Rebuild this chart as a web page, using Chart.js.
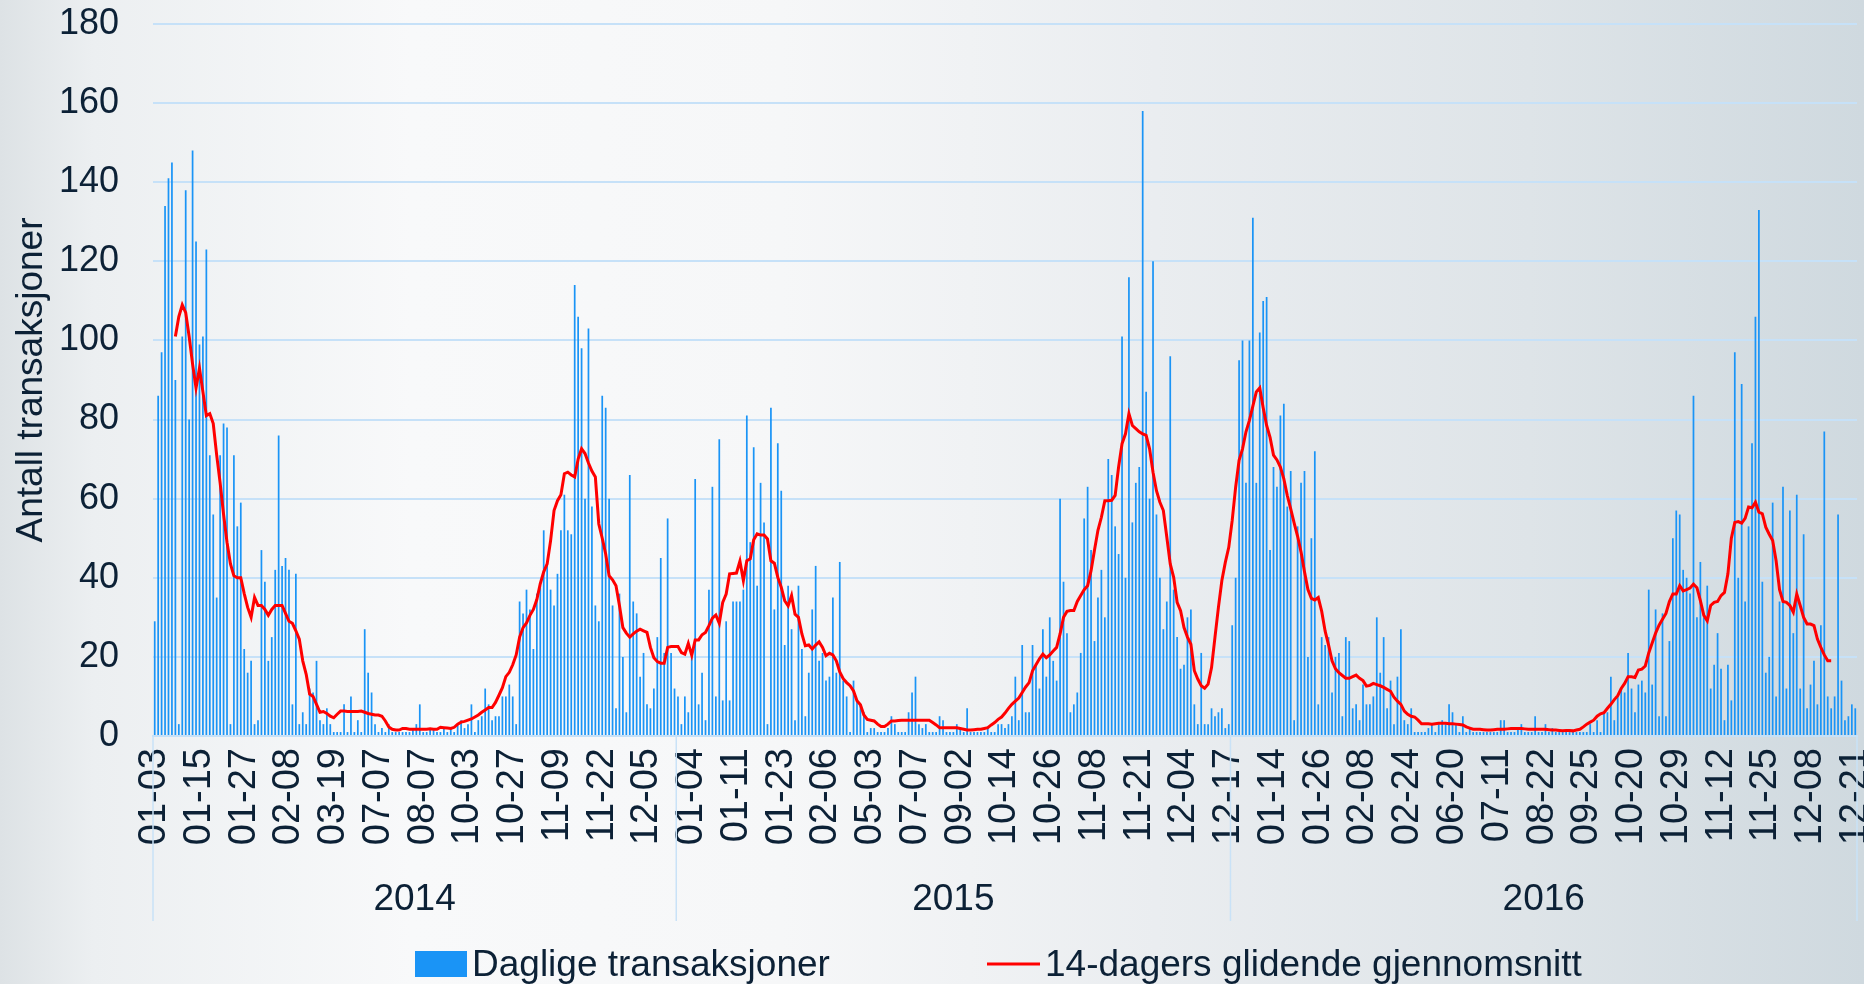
<!DOCTYPE html>
<html>

<head>
    <meta charset="utf-8">
    <title>Daglige transaksjoner</title>
    <script src="https://cdn.jsdelivr.net/npm/chart.js"></script>
    <style>
        html, body { margin: 0; padding: 0; overflow: hidden; }
        canvas { display: block; }
    </style>
</head>

<body>
    <canvas id="barChart" width="1864" height="984"></canvas>

    <script>
        // tick labels, one every 13 categories
        var tickLabels = ['01-03', '01-15', '01-27', '02-08', '03-19', '07-07', '08-07', '10-03', '10-27', '11-09', '11-22', '12-05',
            '01-04', '01-11', '01-23', '02-06', '05-03', '07-07', '09-02', '10-14', '10-26', '11-08', '11-21', '12-04', '12-17',
            '01-14', '01-26', '02-08', '02-24', '06-20', '07-11', '08-22', '09-25', '10-20', '10-29', '11-12', '11-25', '12-08', '12-21'];
        var years = ['2014', '2015', '2016'];

        // daily transactions per year
        var bars2014 = [29, 86, 97, 134, 141, 145, 90, 3, 101, 138, 80, 148, 125, 99, 101, 123,
            71, 56, 35, 71, 79, 78, 3, 71, 53, 59, 22, 16, 19, 3, 4, 47, 39, 19, 25, 42, 76, 43, 45, 42, 8, 41, 3, 6, 3,
            12, 11, 19, 4, 3, 7, 3, 1, 1, 1, 8, 1, 10, 1, 4, 1, 27, 16, 11, 3, 1, 2, 1, 3, 1, 1, 1, 1, 1,
            1, 2, 3, 8, 1, 1, 2, 2, 1, 1, 2, 1, 2, 1, 3, 4, 2, 3, 8, 1, 4, 5, 12, 8, 4, 5, 5, 10, 10, 13, 10, 3,
            34, 31, 37, 32, 22, 36, 38, 52, 43, 37, 33, 41, 52, 61, 52, 51, 114, 106, 98, 60, 103, 58, 33, 29, 86, 83, 60, 33, 7, 36, 20, 6, 66, 34, 31, 15, 21, 8, 7, 12, 25, 45, 21, 55, 21, 12];
        var bars2015 = [10, 3, 10, 6, 22, 65, 8, 16, 4, 37, 63, 10, 75, 9, 29, 9, 34, 34, 34, 37, 81, 49, 73, 38, 64, 54, 3, 83, 32, 74, 62, 23, 38, 27, 4, 38, 22, 5, 16, 32, 43, 19, 21, 14, 15, 35, 16, 44, 14, 10, 1, 14, 9, 8, 6, 1, 2, 2, 1, 1, 1, 2, 5, 3, 1, 1, 1, 6, 11, 15, 3, 2, 3, 1, 1, 1, 5, 4, 1, 1, 1, 3, 2, 1, 7,
            1,
            1, 1, 1, 1, 2, 1, 1, 3, 3, 2, 3, 5, 15, 4, 23, 6, 6, 23, 18, 12, 27, 15, 30, 19, 14, 60, 39, 26, 6, 8, 11, 21, 55, 63, 47, 24, 35, 42, 30, 70, 66, 53, 46, 101, 40, 116, 54, 64, 68, 158, 87, 60, 120, 56, 40, 27, 34, 96, 37, 25, 17, 18, 30, 32, 8, 3, 21, 3, 3, 7, 5, 6, 7, 2, 3];
        var bars2016 = [28, 40, 95, 100, 64, 100,
            131, 64, 102, 110, 111, 47, 68, 63, 81, 84,
            58, 67, 4, 53, 64, 67, 20, 50, 72, 8,
            25, 23, 25, 11, 20, 21, 5, 25, 24, 7,
            8, 4, 13, 8, 8, 10, 30, 16, 25, 7,
            14, 3, 15, 27, 4, 3, 7, 1, 1, 1,
            1, 2, 3, 1, 3, 4, 3, 8, 6, 3,
            1, 5, 1, 2, 1, 1, 1, 1, 1,
            1, 1, 1, 4, 4, 1, 1, 1, 2, 3,
            1, 1, 1, 5, 1, 1, 3, 1, 2, 1,
            1, 1, 1, 1, 1, 1, 1, 1, 1, 3,
            1, 4, 1, 6, 6, 15, 4, 10, 12, 11,
            21, 12, 6, 13, 14, 11, 37, 13, 32, 5,
            31, 5, 24, 50, 57, 56, 42, 40, 36, 86,
            30, 44, 30, 38, 12, 18, 26, 17, 4, 18,
            9, 97, 40, 89, 34, 53, 74, 106, 133, 39,
            16, 20, 59, 10, 34, 63, 12, 57, 26, 61,
            12, 51, 7, 13, 19, 8, 28, 77, 10, 7,
            10, 56, 14, 4, 5, 8, 7];

        // 14-day moving average per year
        var avg2014 = [null, null, null, null, null, null,
            101, 106, 109, 107, 101, 94, 88, 93, 87, 81,
            81.5, 79, 71, 64, 56, 49, 43.5, 40.5, 40, 40, 36, 32.5, 30, 35, 33, 33, 32, 30.5, 32, 33, 33, 33, 31, 29, 28.5, 26.6, 24.5, 19, 15.6, 10.6,
            10, 8, 6, 6.2, 5.7, 5, 4.6, 5.5, 6.3, 6.3, 6.2, 6.2, 6.2, 6.2, 6.3, 6, 5.7, 5.5, 5.3, 5.3, 5, 3.8, 2.3, 1.7, 1.5, 1.5, 1.9, 1.9,
            1.7, 1.7, 1.7, 1.7, 1.7, 1.7, 1.8, 1.7, 1.7, 2.2, 2.1,
            2.0, 1.9, 2.2, 3.0, 3.5, 3.7, 4.0, 4.3, 4.8, 5.3, 6.0, 6.6, 7.2, 7.2, 8.5, 10.3, 12.2, 15.0, 16.1, 18.0, 20.5, 25.0, 27.4, 28.6, 30.5, 32.0, 34.5, 38.5, 41.5, 43.5,
            49.4, 57, 59.5, 61, 66.3, 66.7, 66, 65.5, 70, 72.6, 71.4, 69, 67, 65.5, 53.6, 50, 46, 40.5, 39.5, 38, 33, 27.4, 26, 25, 25.8, 26.5, 27, 26.6, 26.2, 22.4, 19.8, 18.8, 18.4, 18.4, 22.4, 22.6, 22.6];
        var avg2015 = [22.6, 21.1, 20.7, 23.4, 20.4, 24.3, 24.3, 25.6, 26.2, 27.9, 29.8, 30.6, 28.5, 33.8, 35.9, 41, 41.1, 41.2, 44.2, 39.3,
            44.3, 44.8, 49.6, 51.1, 50.8, 50.8, 49.8, 44.3, 43.7, 40.1, 37.6, 34.2, 32.9, 35.5, 30.8, 30, 25.8, 22.8, 23, 22,
            23, 23.8, 22.4, 20.3, 20.9, 20.5, 19, 16.2, 14.5, 13.5, 12.7, 11.4, 8.9, 7.9, 5.3, 4.2, 4, 3.8, 3, 2.4,
            2.4, 3, 3.8, 3.8, 3.9, 4, 4, 4, 4, 4, 4, 4, 4, 4, 3.4, 2.8, 2.1, 2.1, 2.1, 2.1, 2.1, 2.1, 1.9, 1.7, 1.5,
            1.5, 1.6, 1.7, 1.7, 1.9, 2.1, 2.8, 3.4, 4.2, 4.8, 5.8, 7, 8, 8.8, 9.6, 11, 12.4, 13.5, 16.5, 18,
            19.5, 20.7, 19.8, 20.5, 21.5, 22.4, 25.8, 30, 31.5, 31.7, 31.7, 34, 35.5, 37, 38, 41.8, 47, 52, 55.3, 59.5,
            59.5, 59.6, 60.8, 68, 73.9, 76.4, 81.5, 78.5, 77.7, 76.9, 76.4, 76, 72.6, 66.7, 62, 59.1, 57, 50.3, 43.5, 40.1,
            33.8, 31.7, 27.4, 25, 23.2, 16.5, 14.4, 12.7, 12.1, 13.1, 17.3, 25, 32.5, 39.3, 43.9, 47.7];
        var avg2016 = [54.5, 62.9, 69.7, 72.6, 76.9, 79.8, 83.4, 87, 88, 83,
            78.5, 75.5, 71, 69.8, 68, 65, 60.8, 57.4, 53.8, 50.5,
            46.5, 41.5, 37, 34.8, 34.4, 35, 31.5, 26.5, 23, 19,
            17, 16, 15.3, 14.6, 14.6, 15, 15.4, 14.6, 14, 12.6,
            12.8, 13.3, 13, 12.7, 12.3, 11.8, 11.3, 9.8, 8.8, 8,
            6.3, 5.5, 5, 4.8, 4, 3.1, 3.1, 3.1, 3, 3.1,
            3.2, 3.2, 3.2, 3.1, 3.1, 3, 2.9, 2.8, 2.3, 2,
            1.7, 1.7, 1.7, 1.6, 1.5, 1.5, 1.6, 1.7, 1.7, 1.7,
            1.8, 1.9, 1.9, 1.9, 1.9, 1.8, 1.7, 1.7, 1.7, 1.7,
            1.7, 1.7, 1.6, 1.5, 1.5, 1.4, 1.3, 1.4, 1.4, 1.3,
            1.5, 1.7, 2.3, 3, 3.5, 4, 5, 5.6, 5.9, 7,
            8, 9.2, 10.2, 12, 13.3, 15, 15, 14.8, 16.7, 16.9,
            17.7, 21, 23.5, 26, 28, 29.5, 31, 34, 35.9, 35.9,
            38, 36.7, 37, 37.4, 38.4, 37.5, 34.2, 30.5, 29.1, 33,
            33.8, 34, 35.5, 36.3, 41, 50, 54, 54.2, 53.8, 55,
            57.9, 57.7, 59.1, 56.6, 56.2, 52.8, 51, 49.4, 44.3, 37,
            34, 33.8, 33, 31.3, 35.9, 33, 30, 28.3, 28.3, 27.9,
            24.5, 22.4, 20.5, 19, 19,
            null, null, null, null, null, null, null];

        var daily = bars2014.concat(bars2015, bars2016);
        var average = avg2014.concat(avg2015, avg2016);
        var yearCounts = [bars2014.length, bars2015.length, bars2016.length];
        var labels = daily.map(function (v, i) { return String(i); });

        var textColor = '#0c2136';
        var gridColor = '#c6e1f8';
        var barColor = '#1a94f6';
        var lineColor = '#ff0000';

        // page background
        var bgPlugin = {
            id: 'bg',
            beforeDraw: function (chart) {
                var ctx = chart.ctx;
                var g = ctx.createLinearGradient(0, 0, chart.width, 0);
                g.addColorStop(0, '#dde2e5');
                g.addColorStop(0.05, '#eceff1');
                g.addColorStop(0.22, '#f8f9fa');
                g.addColorStop(0.42, '#f6f7f8');
                g.addColorStop(0.62, '#eaedf0');
                g.addColorStop(0.82, '#dee4e8');
                g.addColorStop(1, '#cfd9df');
                ctx.save();
                ctx.fillStyle = g;
                ctx.fillRect(0, 0, chart.width, chart.height);
                ctx.restore();
            }
        };

        // year group labels, separators and legend
        var extrasPlugin = {
            id: 'extras',
            afterDraw: function (chart) {
                var ctx = chart.ctx;
                var x = chart.scales.x;
                var step = x.width / daily.length;
                var start = 0;
                ctx.save();
                ctx.strokeStyle = '#c9e2f7';
                ctx.lineWidth = 1.5;
                ctx.fillStyle = textColor;
                ctx.font = '37px "Liberation Sans", Arial, sans-serif';
                ctx.textAlign = 'center';
                ctx.textBaseline = 'middle';
                years.forEach(function (name, k) {
                    var x0 = x.left + start * step;
                    var x1 = x.left + (start + yearCounts[k]) * step;
                    ctx.beginPath();
                    ctx.moveTo(x0, x.top);
                    ctx.lineTo(x0, 921);
                    ctx.stroke();
                    ctx.fillText(name, (x0 + x1) / 2, 900);
                    start += yearCounts[k];
                });
                ctx.beginPath();
                ctx.moveTo(x.right, x.top);
                ctx.lineTo(x.right, 921);
                ctx.stroke();

                // legend
                ctx.textAlign = 'left';
                ctx.fillStyle = barColor;
                ctx.fillRect(415, 951, 52, 26);
                ctx.fillStyle = textColor;
                ctx.fillText('Daglige transaksjoner', 472, 966);
                ctx.strokeStyle = lineColor;
                ctx.lineWidth = 3;
                ctx.beginPath();
                ctx.moveTo(987, 964);
                ctx.lineTo(1040, 964);
                ctx.stroke();
                ctx.fillText('14-dagers glidende gjennomsnitt', 1045, 966);
                ctx.restore();
            }
        };

        new Chart('barChart', {
            type: 'bar',
            data: {
                labels: labels,
                datasets: [{
                    type: 'line',
                    label: '14-dagers glidende gjennomsnitt',
                    data: average,
                    borderColor: lineColor,
                    borderWidth: 3,
                    pointRadius: 0,
                    tension: 0,
                    fill: false,
                    order: 0
                }, {
                    label: 'Daglige transaksjoner',
                    data: daily,
                    backgroundColor: barColor,
                    barPercentage: 0.5,
                    categoryPercentage: 1,
                    order: 1
                }]
            },
            options: {
                responsive: false,
                animation: false,
                devicePixelRatio: 1,
                layout: { padding: { left: 0, top: 24, right: 7, bottom: 0 } },
                plugins: {
                    legend: { display: false },
                    tooltip: { enabled: false }
                },
                scales: {
                    x: {
                        grid: { display: false, drawTicks: false },
                        border: { display: true, color: gridColor, width: 2 },
                        ticks: {
                            autoSkip: false,
                            minRotation: 90,
                            maxRotation: 90,
                            padding: 12,
                            color: textColor,
                            font: { family: '"Liberation Sans", Arial, sans-serif', size: 38 },
                            callback: function (v, i) {
                                return i % 13 === 0 ? tickLabels[i / 13] : null;
                            }
                        },
                        afterFit: function (scale) {
                            scale.height = 248;
                            scale.paddingLeft = 0;
                            scale.paddingRight = 0;
                        }
                    },
                    y: {
                        min: 0,
                        max: 180,
                        grid: { color: gridColor, lineWidth: 2, drawTicks: false },
                        border: { display: false },
                        ticks: {
                            stepSize: 20,
                            padding: 34,
                            color: textColor,
                            font: { family: '"Liberation Sans", Arial, sans-serif', size: 36 }
                        },
                        title: {
                            display: true,
                            text: 'Antall transaksjoner',
                            color: textColor,
                            font: { family: '"Liberation Sans", Arial, sans-serif', size: 37 },
                            padding: { top: 10, bottom: 0 }
                        },
                        afterFit: function (scale) {
                            scale.width = 153;
                            scale.paddingTop = 0;
                            scale.paddingBottom = 0;
                        }
                    }
                }
            },
            plugins: [bgPlugin, extrasPlugin]
        });
    </script>
</body>

</html>
